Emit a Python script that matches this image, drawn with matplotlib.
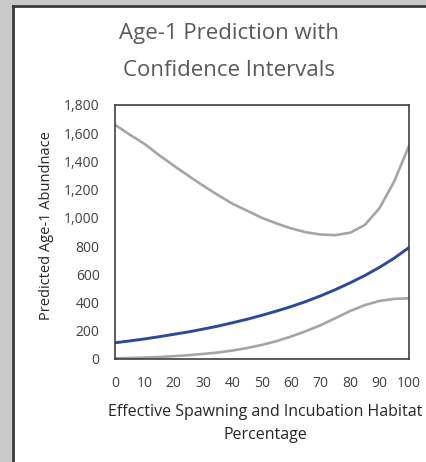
import matplotlib
matplotlib.use("Agg")
import matplotlib.pyplot as plt
from matplotlib.patches import Rectangle
from matplotlib.lines import Line2D
from matplotlib.ticker import FuncFormatter

# ---------------------------------------------------------------------------
# Data
# ---------------------------------------------------------------------------
habitat_pct = [0, 5, 10, 15, 20, 25, 30, 35, 40, 45, 50,
               55, 60, 65, 70, 75, 80, 85, 90, 95, 100]
upper_ci = [1660, 1590, 1525, 1445, 1370, 1298, 1228, 1162, 1100, 1050, 1000,
            960, 925, 898, 882, 878, 895, 950, 1070, 1260, 1510]
prediction = [115, 128, 142, 158, 175, 192, 212, 233, 257, 282, 310,
              340, 372, 408, 448, 492, 540, 592, 650, 715, 790]
lower_ci = [5, 7, 10, 14, 20, 27, 36, 46, 60, 78, 100,
            127, 160, 198, 240, 290, 340, 382, 412, 426, 430]

x_ticks = [0, 10, 20, 30, 40, 50, 60, 70, 80, 90, 100]
y_ticks = [0, 200, 400, 600, 800, 1000, 1200, 1400, 1600, 1800]

FONT = "Open Sans"
W, H = 426, 462

fig = plt.figure(figsize=(W / 100, H / 100), dpi=100)
fig.patch.set_facecolor("white")

# grey surround + dark frame (left and top edges only visible)
fig.add_artist(Rectangle((0, 0), 12 / W, 1, transform=fig.transFigure,
                         facecolor="#c9c9c9", edgecolor="none"))
fig.add_artist(Rectangle((0, 1 - 5 / H), 1, 5 / H, transform=fig.transFigure,
                         facecolor="#c9c9c9", edgecolor="none"))
fig.add_artist(Line2D([12.8 / W, 12.8 / W], [0, 1 - 5.8 / H],
                      transform=fig.transFigure, color="#3a3a3a", lw=2.0))
fig.add_artist(Line2D([12.8 / W, 1], [1 - 5.8 / H, 1 - 5.8 / H],
                      transform=fig.transFigure, color="#3a3a3a", lw=2.0))

ax = fig.add_axes([115 / W, 1 - 359 / H, (409 - 115) / W, (359 - 105) / H])

ax.plot(habitat_pct, upper_ci, color="#a5a5a5", lw=1.9, solid_capstyle="round")
ax.plot(habitat_pct, lower_ci, color="#a5a5a5", lw=1.9, solid_capstyle="round")
ax.plot(habitat_pct, prediction, color="#2b4a9b", lw=2.1, solid_capstyle="round")

ax.set_xlim(0, 100)
ax.set_ylim(0, 1800)
ax.set_xticks(x_ticks)
ax.set_yticks(y_ticks)
ax.yaxis.set_major_formatter(FuncFormatter(lambda v, p: f"{int(v):,}"))
ax.tick_params(length=0, labelsize=10, labelcolor="#404040")
ax.tick_params(axis="x", pad=12)
ax.tick_params(axis="y", pad=11)
for lbl in ax.get_xticklabels() + ax.get_yticklabels():
    lbl.set_fontfamily(FONT)
for sp in ax.spines.values():
    sp.set_color("#404040")
    sp.set_linewidth(1.2)

fig.text(229 / W, 1 - 33 / H, "Age-1 Prediction with", ha="center", va="center",
         fontsize=16, color="#595959", family=FONT)
fig.text(229 / W, 1 - 70 / H, "Confidence Intervals", ha="center", va="center",
         fontsize=16, color="#595959", family=FONT)

fig.text(265 / W, 1 - 412 / H, "Effective Spawning and Incubation Habitat",
         ha="center", va="center", fontsize=11.5, color="#262626", family=FONT)
fig.text(265 / W, 1 - 435 / H, "Percentage",
         ha="center", va="center", fontsize=11.5, color="#262626", family=FONT)
fig.text(47 / W, 1 - 226 / H, "Predicted Age-1 Abundnace", rotation=90,
         ha="center", va="center", fontsize=10.5, color="#262626", family=FONT)

fig.savefig("out.png", dpi=100)
plt.close(fig)
